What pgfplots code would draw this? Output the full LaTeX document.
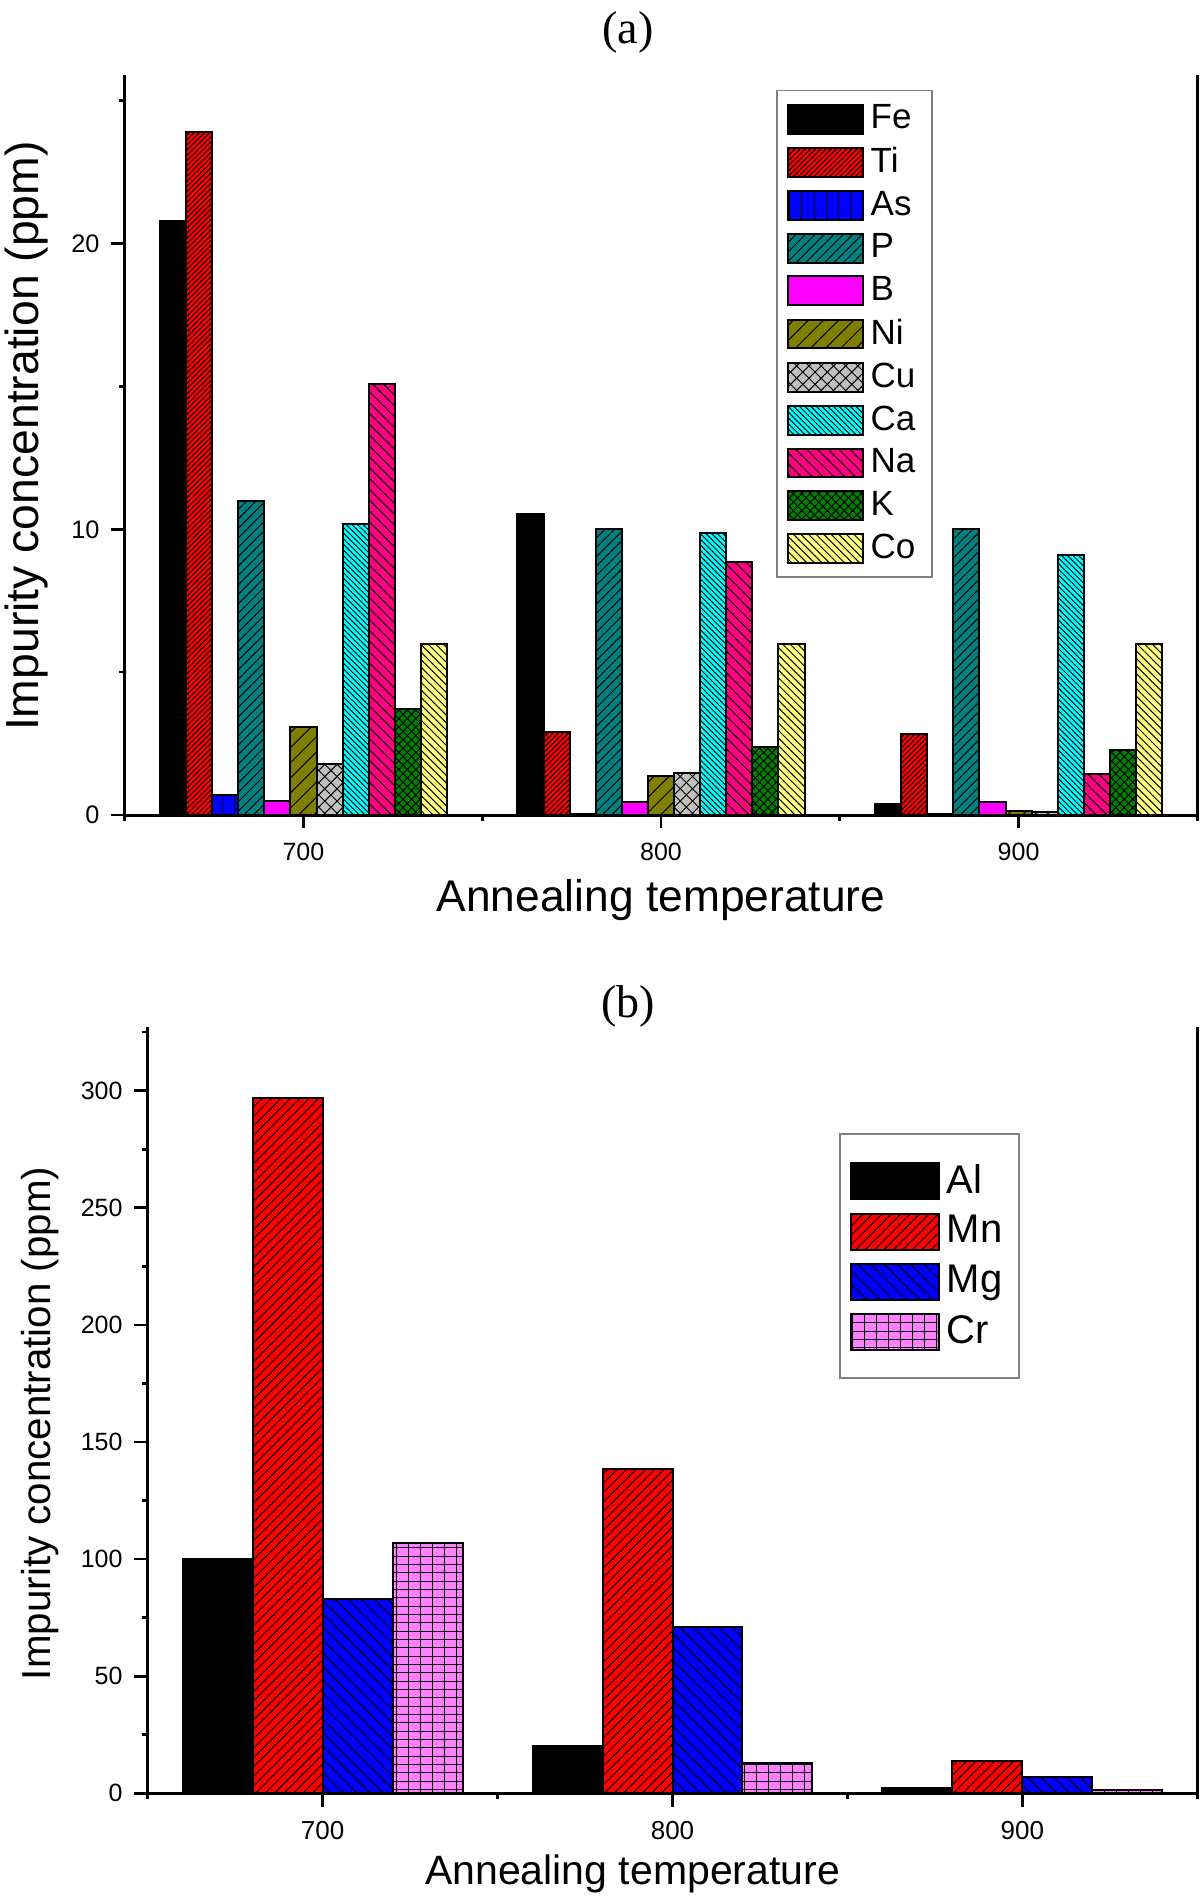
\documentclass[border=0pt]{standalone}
\usepackage{fontspec}
\setmainfont{Liberation Sans}
\newfontfamily\seriffont{Liberation Serif}
\usepackage{pgfplots}
\pgfplotsset{compat=1.18}
\usetikzlibrary{patterns,patterns.meta}
\definecolor{cTi}{RGB}{255,0,0}
\definecolor{cAs}{RGB}{0,0,255}
\definecolor{cP}{RGB}{0,128,128}
\definecolor{cB}{RGB}{255,0,255}
\definecolor{cNi}{RGB}{128,128,0}
\definecolor{cCu}{RGB}{192,192,192}
\definecolor{cCa}{RGB}{0,255,255}
\definecolor{cNa}{RGB}{255,0,128}
\definecolor{cK}{RGB}{0,128,0}
\definecolor{cCo}{RGB}{255,255,128}
\definecolor{cCr}{RGB}{255,128,255}
\pgfplotsset{
  myframe/.style={
    scale only axis,
    axis x line*=bottom, axis y line*=box,
    xtick pos=bottom, ytick pos=left,
    tick align=outside,
    major tick length=4pt, minor tick length=1.8pt,
    every tick/.style={black, line width=0.8pt},
    axis line style={line width=0.9pt},
    xmin=650, xmax=950, xtick={700,800,900}, minor xtick={650,750,850,950},
    ymin=0,
    /pgf/number format/assume math mode=true,
    ybar,
  },
  barA/.style={draw=black, line width=0.6pt, fill=#1,
    legend image code/.code={\draw[##1, line width=0.6pt] (0pt,-4.3pt) rectangle (22.5pt,4.3pt);}},
  barB/.style={draw=black, line width=0.6pt, fill=#1,
    legend image code/.code={\draw[##1, line width=0.6pt] (0pt,-5.4pt) rectangle (26.5pt,5.4pt);}},
  pat/.style 2 args={postaction={pattern={Lines[angle=#1,distance=#2,line width=0.3pt]}, pattern color=black}},
  pat2/.style 2 args={postaction={pattern={Lines[angle=#1,distance=#2,line width=0.3pt]}, pattern color=black}},
}
\begin{document}
\begin{tikzpicture}
\path[use as bounding box] (0,0) rectangle (360pt,-569.4pt);
\node[font=\seriffont\fontsize{13.8}{15}\selectfont] at (188.4pt,-9.6pt) {(a)};
\node[font=\seriffont\fontsize{13.8}{15}\selectfont] at (188.4pt,-302pt) {(b)};
% ---------------- panel (a)
\begin{axis}[myframe,
  at={(37.4pt,-244.5pt)}, anchor=south west,
  width=321.8pt, height=222pt,
  ymax=25.9, ytick={0,10,20}, minor ytick={5,15,25},
  bar width=7.3,
  xticklabel style={font=\fontsize{7.5}{9}\selectfont, yshift=-0.8pt},
  yticklabel style={font=\fontsize{7.6}{9}\selectfont},
  xlabel={Annealing temperature},
  ylabel={Impurity concentration (ppm)},
  xlabel style={font=\fontsize{13.3}{15}\selectfont, at={(axis description cs:0.5,-0.1149)}, anchor=center},
  ylabel style={font=\fontsize{13.9}{15}\selectfont, at={(axis description cs:-0.0912,0.512)}, anchor=center},
  legend cell align=left,
  legend style={at={(0.6074,0.980)}, anchor=north west, draw=gray, line width=0.5pt,
    font=\fontsize{10.5}{12}\selectfont, row sep=0.05pt, inner xsep=3pt, inner ysep=2.2pt},
]
\addplot[barA=black, bar shift=-36.5] coordinates {(700,20.8) (800,10.55) (900,0.4)};
\addplot[barA=cTi, bar shift=-29.2, pat={45}{1.1pt}] coordinates {(700,23.9) (800,2.92) (900,2.82)};
\addplot[barA=cAs, bar shift=-21.9, pat={90}{3.7pt}] coordinates {(700,0.7) (800,0.05) (900,0.05)};
\addplot[barA=cP, bar shift=-14.6, pat={45}{2.0pt}] coordinates {(700,11.0) (800,10.0) (900,10.0)};
\addplot[barA=cB, bar shift=-7.3] coordinates {(700,0.48) (800,0.47) (900,0.47)};
\addplot[barA=cNi, bar shift=0, pat={45}{3.2pt}] coordinates {(700,3.08) (800,1.38) (900,0.13)};
\addplot[barA=cCu, bar shift=7.3, pat={45}{2.6pt}, pat2={-45}{2.6pt}] coordinates {(700,1.78) (800,1.48) (900,0.09)};
\addplot[barA=cCa, bar shift=14.6, pat={-45}{1.2pt}] coordinates {(700,10.2) (800,9.87) (900,9.1)};
\addplot[barA=cNa, bar shift=21.9, pat={-45}{2.3pt}] coordinates {(700,15.1) (800,8.85) (900,1.42)};
\addplot[barA=cK, bar shift=29.2, pat={45}{1.8pt}, pat2={-45}{1.8pt}] coordinates {(700,3.71) (800,2.38) (900,2.27)};
\addplot[barA=cCo, bar shift=36.5, pat={-45}{1.6pt}] coordinates {(700,6.0) (800,6.0) (900,6.0)};
\legend{Fe,Ti,As,P,B,Ni,Cu,Ca,Na,K,Co}
\end{axis}
% ---------------- panel (b)
\begin{axis}[myframe,
  at={(44.3pt,-538pt)}, anchor=south west,
  width=314.9pt, height=230pt,
  ymax=327.3, ytick={0,50,...,300}, minor ytick={25,75,...,325},
  bar width=20,
  xticklabel style={font=\fontsize{7.8}{9}\selectfont, yshift=-0.8pt},
  yticklabel style={font=\fontsize{7.5}{9}\selectfont},
  xlabel={Annealing temperature},
  ylabel={Impurity concentration (ppm)},
  xlabel style={font=\fontsize{12.3}{14}\selectfont, at={(axis description cs:0.462,-0.1057)}, anchor=center},
  ylabel style={font=\fontsize{12.1}{14}\selectfont, at={(axis description cs:-0.1024,0.4826)}, anchor=center},
  legend cell align=left,
  legend style={at={(0.6585,0.861)}, anchor=north west, draw=gray, line width=0.5pt,
    font=\fontsize{12}{14}\selectfont, row sep=1.2pt, inner xsep=3pt, inner ysep=7pt},
]
\addplot[barB=black, bar shift=-30] coordinates {(700,100) (800,20.2) (900,2.2)};
\addplot[barB=cTi, bar shift=-10, pat={45}{2.0pt}] coordinates {(700,297) (800,138.5) (900,14)};
\addplot[barB=cAs, bar shift=10, pat={-45}{2.8pt}] coordinates {(700,82.8) (800,70.9) (900,6.9)};
\addplot[barB=cCr, bar shift=30, pat={90}{3.6pt}, pat2={0}{2.5pt}] coordinates {(700,107) (800,12.9) (900,1.5)};
\legend{Al,Mn,Mg,Cr}
\end{axis}
\end{tikzpicture}
\end{document}
